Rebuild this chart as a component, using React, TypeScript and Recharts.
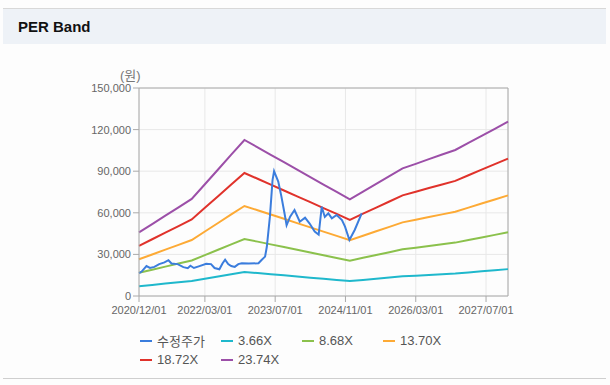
import React from 'react';
import {
    LineChart, Line, XAxis, YAxis, CartesianGrid, ReferenceLine, Legend
} from 'recharts';

// months counted from 2020/12
const bandMonths = [0, 3, 6, 9, 12, 15, 18, 21, 24, 27, 30, 33, 36, 39, 42, 45, 48, 51, 54, 57, 60, 63, 66, 69, 72, 75, 78, 81, 84];
const per366 = [7080, 8000, 8930, 9860, 10790, 12430, 14070, 15710, 17340, 16530, 15690, 14880, 14040, 13230, 12400, 11580, 10750, 11610, 12470, 13320, 14180, 14690, 15220, 15730, 16230, 17020, 17810, 18590, 19380];
const per868 = [16780, 18980, 21190, 23380, 25590, 29470, 33360, 37260, 41130, 39200, 37220, 35280, 33310, 31370, 29400, 27460, 25480, 27530, 29580, 31590, 33640, 34840, 36090, 37290, 38500, 40370, 42230, 44090, 45960];
const per1370 = [26490, 29950, 33440, 36900, 40400, 46510, 52660, 58810, 64920, 61860, 58750, 55690, 52570, 49510, 46400, 43340, 40220, 43450, 46690, 49860, 53090, 55000, 56960, 58860, 60770, 63710, 66650, 69600, 72540];
const per1872 = [36190, 40930, 45700, 50430, 55200, 63560, 71950, 80350, 88710, 84530, 80270, 76090, 71840, 67660, 63400, 59220, 54960, 59380, 63790, 68130, 72550, 75150, 77830, 80430, 83030, 87050, 91080, 95100, 99120];
const per2374 = [45900, 51900, 57950, 63950, 70000, 80600, 91250, 101900, 112500, 107200, 101800, 96500, 91100, 85800, 80400, 75100, 69700, 75300, 80900, 86400, 92000, 95300, 98700, 102000, 105300, 110400, 115500, 120600, 125700];

const priceMonths = [0, 0.6, 1.7, 2.5, 3.5, 4.6, 5.8, 6.7, 7.4, 8.8, 10.1, 11.1, 11.7, 12.5, 13.6, 15.3, 16.4, 17.2, 18.3, 19.0, 19.6, 20.3, 21.0, 21.8, 22.6, 23.4, 25.0, 27.2, 27.9, 28.7, 29.1, 29.8, 30.4, 30.75, 31.2, 31.7, 32.4, 33.1, 33.6, 34.4, 35.4, 36.6, 37.8, 38.8, 40.0, 40.9, 41.6, 42.3, 43.1, 43.9, 45.0, 46.2, 46.9, 47.9, 49.1, 50.7];
const priceValues = [16400, 17600, 21600, 20200, 21000, 23000, 24200, 25800, 23400, 23000, 20800, 20000, 21800, 20200, 21400, 23200, 23000, 20200, 19300, 23500, 26200, 23000, 21600, 21000, 23000, 23600, 23400, 23600, 26000, 28400, 35500, 57200, 83600, 90000, 86500, 82500, 72000, 60000, 51000, 57200, 62000, 53600, 56500, 52400, 46400, 44200, 64400, 57000, 59600, 56000, 58400, 54800, 50000, 40400, 47600, 59600];

const xTickMonths = [0, 15, 31, 47, 63, 79];
const xTickLabels = ['2020/12/01', '2022/03/01', '2023/07/01', '2024/11/01', '2026/03/01', '2027/07/01'];
const yTicks = [0, 30000, 60000, 90000, 120000, 150000];

const seriesNames = ['수정주가', '3.66X', '8.68X', '13.70X', '18.72X', '23.74X'];
const seriesColors = ['#3b7ddd', '#1fb8cc', '#8bc14c', '#fdaa35', '#e0322b', '#9c4fa8'];

const bandSeries = [per366, per868, per1370, per1872, per2374];

const bandData = bandMonths.map((m, i) => {
    const row: Record<string, number> = { m };
    bandSeries.forEach((s, k) => { row[`b${k}`] = s[i]; });
    return row;
});
const priceData = priceMonths.map((m, i) => ({ m, price: priceValues[i] }));

const FONT = '"Liberation Sans", Arial, "Noto Sans CJK KR", sans-serif';

const renderLegend = () => (
    <div style={{ display: 'flex', flexWrap: 'wrap', width: 330, fontFamily: FONT }}>
        {seriesNames.map((name, i) => (
            <div key={name} style={{ display: 'flex', alignItems: 'center', width: 81, height: 19 }}>
                <span style={{ display: 'inline-block', width: 12, height: 2, background: seriesColors[i], marginRight: 5 }} />
                <span style={{ fontSize: 13, color: '#555' }}>{name}</span>
            </div>
        ))}
    </div>
);

export default function App() {
    return (
        <div style={{ position: 'absolute', left: 0, top: 0, width: 610, height: 385, background: '#fdfdfd', fontFamily: FONT }}>
            <div style={{
                position: 'absolute', left: 3, top: 8, width: 603, height: 35,
                borderTop: '1px solid #d8d8d8', background: '#eef2f7'
            }}>
                <span style={{ position: 'absolute', left: 15, top: 9, fontSize: 15, fontWeight: 'bold', color: '#111' }}>PER Band</span>
            </div>
            <div style={{ position: 'absolute', left: 3, top: 378, width: 603, height: 1, background: '#cfcfcf' }} />
            <div style={{ position: 'absolute', left: 0, top: 0 }}>
                <LineChart width={610} height={385} margin={{ top: 88, right: 102, bottom: 69, left: 79 }}>
                    <CartesianGrid stroke="#e8e8e8" />
                    <XAxis
                        type="number"
                        dataKey="m"
                        domain={[0, 84]}
                        ticks={xTickMonths}
                        interval={0}
                        height={20}
                        tickFormatter={(v) => xTickLabels[xTickMonths.indexOf(v)] ?? ''}
                        tick={{ fontSize: 11, fill: '#666', fontFamily: FONT }}
                        tickSize={6}
                        tickMargin={4}
                        stroke="#aaa"
                        allowDuplicatedCategory={false}
                    />
                    <YAxis
                        type="number"
                        domain={[0, 150000]}
                        ticks={yTicks}
                        width={60}
                        interval={0}
                        tickFormatter={(v) => v.toLocaleString('en-US')}
                        tick={{ fontSize: 11, fill: '#666', fontFamily: FONT }}
                        tickSize={6}
                        tickMargin={2}
                        stroke="#aaa"
                    />
                    <ReferenceLine y={150000} stroke="#aaa" />
                    <ReferenceLine x={84} stroke="#aaa" />
                    {bandSeries.map((_, k) => (
                        <Line
                            key={k}
                            data={bandData}
                            dataKey={`b${k}`}
                            name={seriesNames[k + 1]}
                            type="linear"
                            stroke={seriesColors[k + 1]}
                            strokeWidth={2}
                            dot={false}
                            isAnimationActive={false}
                        />
                    ))}
                    <Line
                        data={priceData}
                        dataKey="price"
                        name={seriesNames[0]}
                        type="linear"
                        stroke={seriesColors[0]}
                        strokeWidth={2}
                        dot={false}
                        isAnimationActive={false}
                    />
                    <Legend
                        verticalAlign="middle"
                        layout="horizontal"
                        content={renderLegend}
                        wrapperStyle={{ left: 140, top: 331, width: 330 }}
                    />
                </LineChart>
            </div>
            <span style={{ position: 'absolute', left: 120, top: 65, fontSize: 13, color: '#777' }}>(원)</span>
        </div>
    );
}
